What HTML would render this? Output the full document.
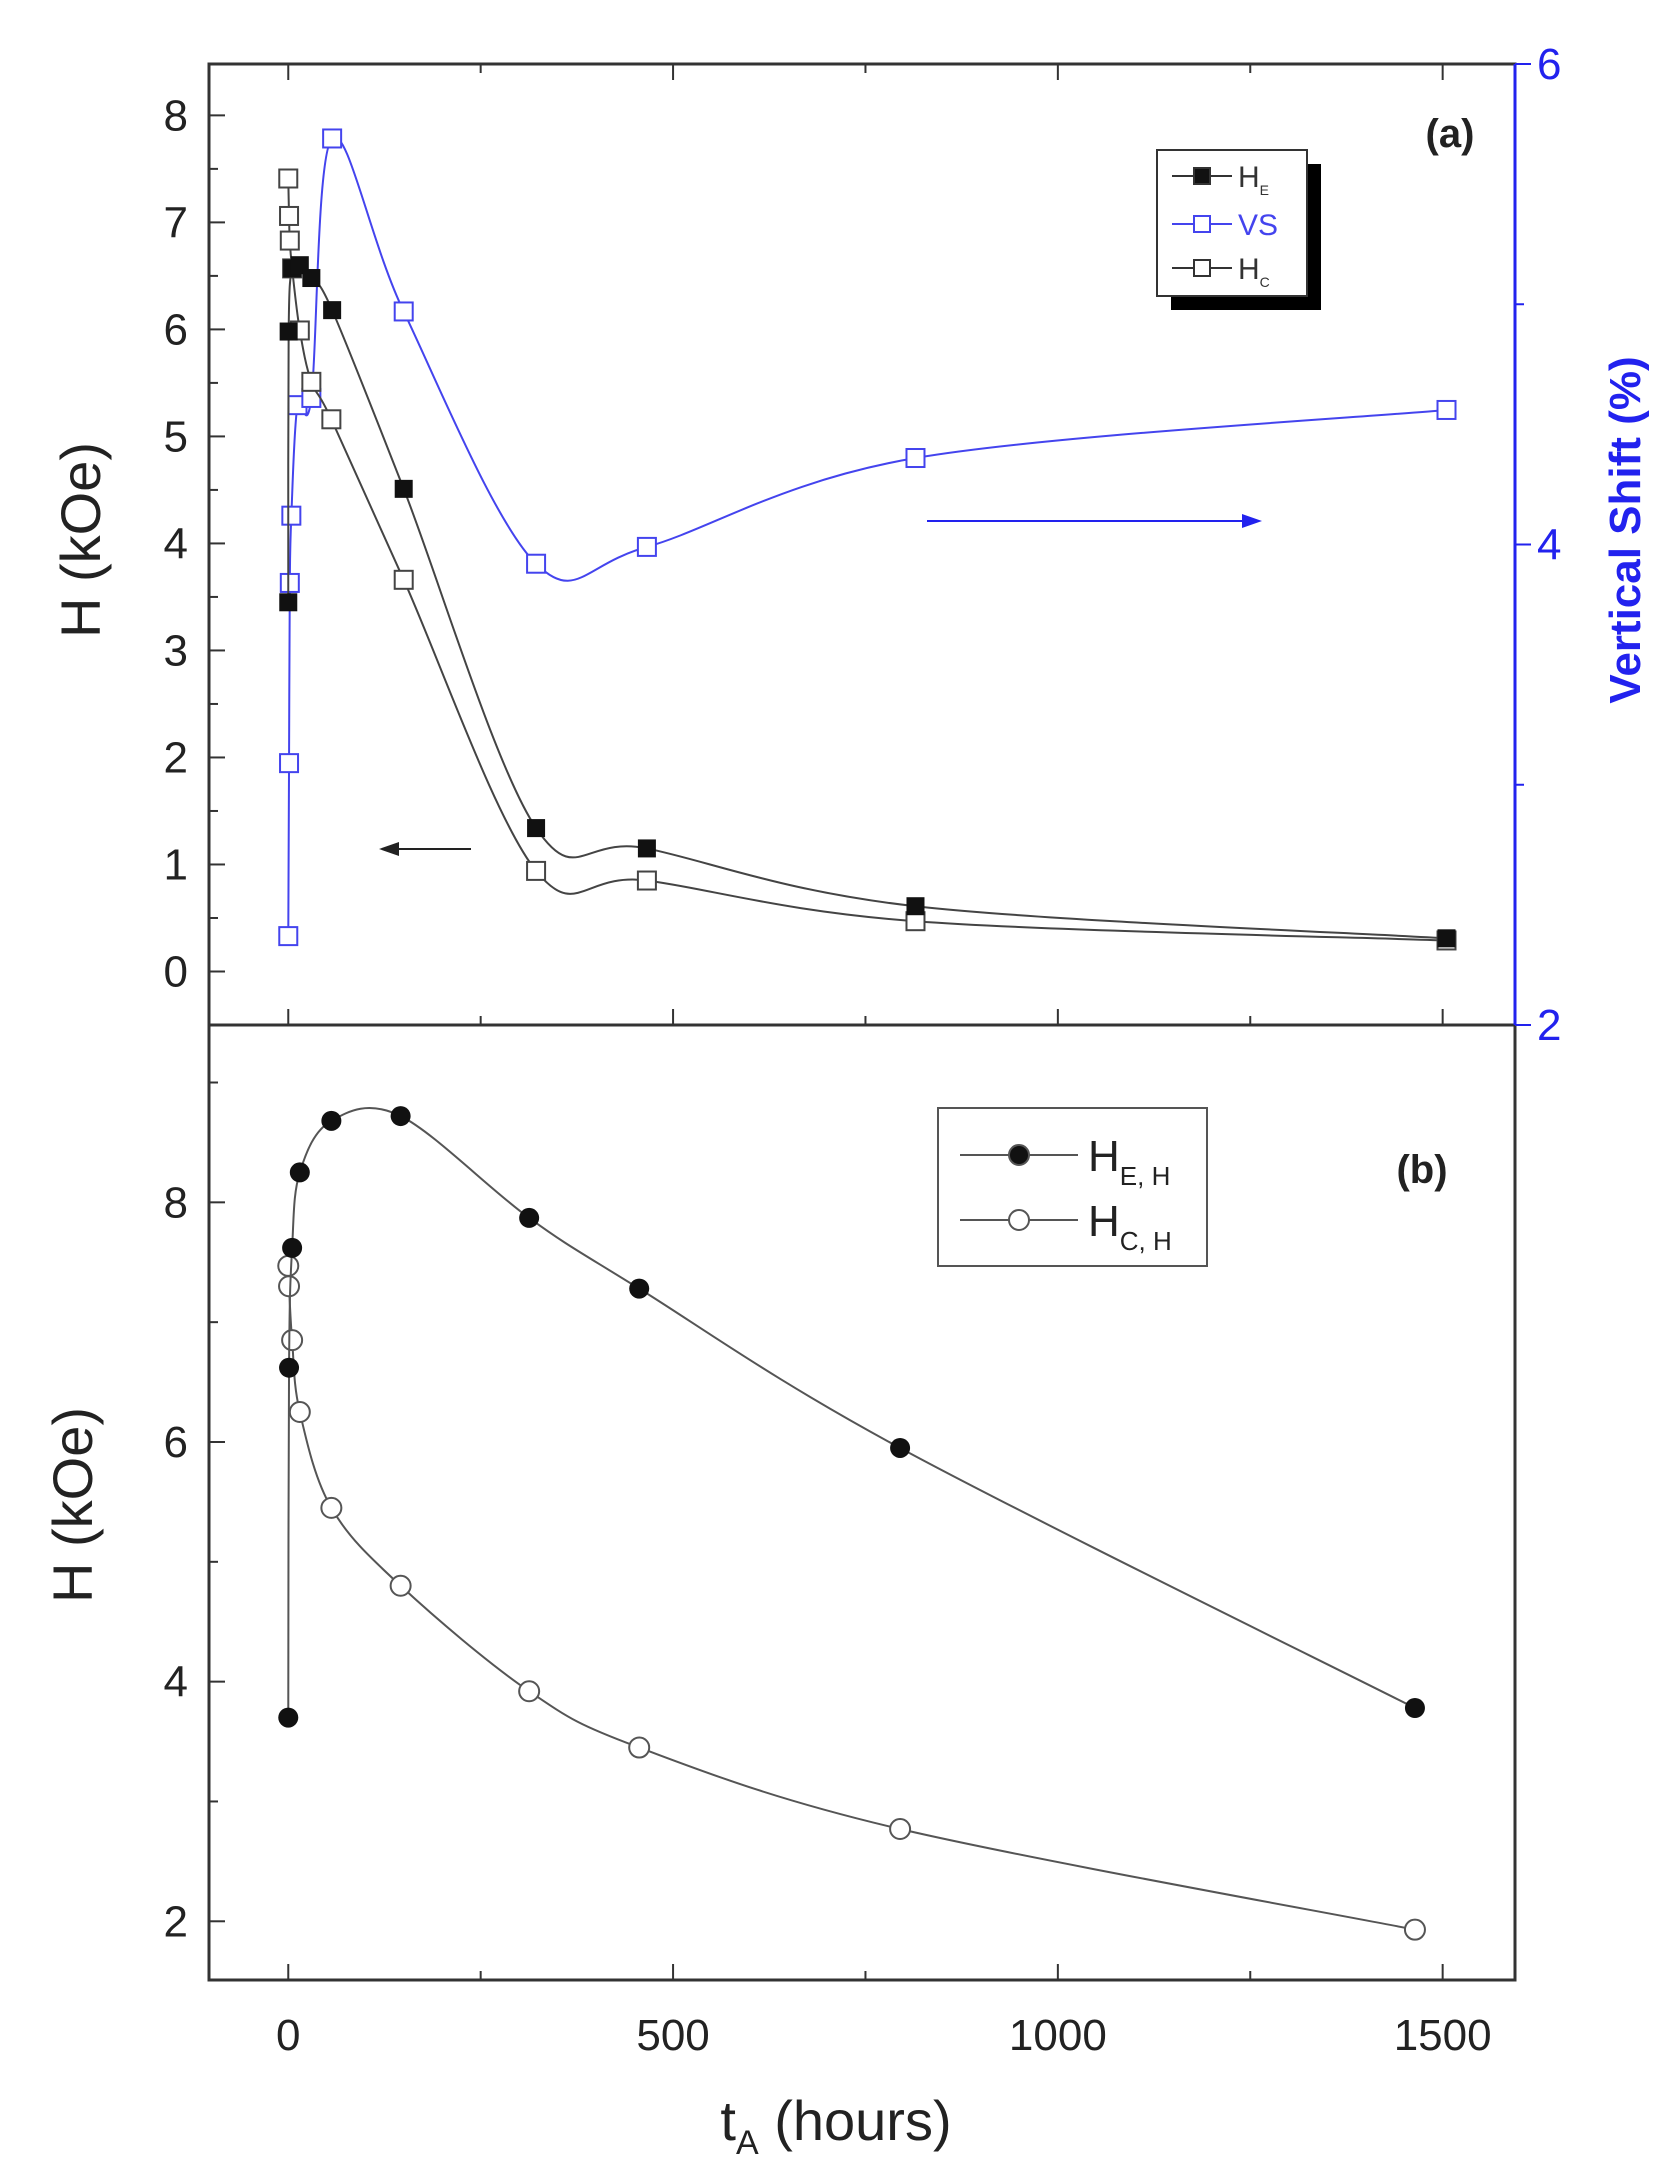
<!DOCTYPE html>
<html><head><meta charset="utf-8"><style>
body{margin:0;background:#fff}
svg{display:block}
text{font-family:"Liberation Sans",Arial,sans-serif}
</style></head><body>
<svg id="chart" width="1673" height="2183" viewBox="0 0 1673 2183" xmlns="http://www.w3.org/2000/svg">
<g id="g"></g>
</svg>
<script>
// ---- data ----
const tA_HE = [0, 0.5, 5, 15, 30, 57, 150, 322, 466, 815, 1505];
const vA_HE = [3.45, 5.98, 6.57, 6.6, 6.48, 6.18, 4.51, 1.34, 1.15, 0.61, 0.31];
const tA_HC = [0, 1, 2, 5, 15, 30, 56, 150, 322, 466, 815, 1505];
const vA_HC = [7.41, 7.06, 6.83, 6.57, 5.99, 5.51, 5.16, 3.66, 0.94, 0.85, 0.47, 0.29];
const tA_VS = [0, 1, 2, 4, 12, 30, 57, 150, 322, 466, 815, 1505];
const vA_VS = [2.37, 3.09, 3.84, 4.12, 4.58, 4.61, 5.69, 4.97, 3.92, 3.99, 4.36, 4.56];
const tB_HE = [0, 1, 5, 15, 56, 146, 313, 456, 795, 1464];
const vB_HE = [3.7, 6.62, 7.62, 8.25, 8.68, 8.72, 7.87, 7.28, 5.95, 3.78];
const tB_HC = [0, 1, 5, 15, 56, 146, 313, 456, 795, 1464];
const vB_HC = [7.47, 7.3, 6.85, 6.25, 5.45, 4.8, 3.92, 3.45, 2.77, 1.93];
const xTicks = [0, 500, 1000, 1500];
const yTicksA = [0, 1, 2, 3, 4, 5, 6, 7, 8];
const yTicksR = [2, 4, 6];
const yTicksB = [2, 4, 6, 8];

// ---- scales ----
const L = 209, R = 1515, TA = 64, MID = 1025, BB = 1980;
const x = t => L + (t - (-103)) / (1594 - (-103)) * (R - L);
const yA = v => TA + (8.48 - v) / (8.48 + 0.5) * (MID - TA);
const yR = v => TA + (6 - v) / 4 * (MID - TA);
const yB = v => MID + (9.48 - v) / (9.48 - 1.51) * (BB - MID);

const g = document.getElementById('g');
const NS = 'http://www.w3.org/2000/svg';
function el(tag, attrs, parent) {
  const e = document.createElementNS(NS, tag);
  for (const k in attrs) e.setAttribute(k, attrs[k]);
  (parent || g).appendChild(e);
  return e;
}
function txt(s, attrs) { const e = el('text', attrs); e.textContent = s; return e; }
function spline(pts) {
  let d = 'M' + pts[0][0] + ',' + pts[0][1];
  for (let i = 0; i < pts.length - 1; i++) {
    const p0 = pts[i - 1] || pts[i], p1 = pts[i], p2 = pts[i + 1], p3 = pts[i + 2] || p2;
    const c1 = [p1[0] + (p2[0] - p0[0]) / 6, p1[1] + (p2[1] - p0[1]) / 6];
    const c2 = [p2[0] - (p3[0] - p1[0]) / 6, p2[1] - (p3[1] - p1[1]) / 6];
    d += ' C' + c1 + ' ' + c2 + ' ' + p2;
  }
  return d;
}

// frames
let e;
e = el('rect', {x: L, y: TA, width: R - L, height: MID - TA, fill: 'none', stroke: '#333', 'stroke-width': 3});
 
e = el('rect', {x: L, y: MID, width: R - L, height: BB - MID, fill: 'none', stroke: '#333', 'stroke-width': 3});
 
e = el('line', {x1: R, y1: TA, x2: R, y2: MID, stroke: '#2222ee', 'stroke-width': 3});
 

// x ticks
for (let t = 0; t <= 1500; t += 250) {
  const major = t % 500 === 0, len = major ? 16 : 9, xx = x(t);
  el('line', {x1: xx, y1: TA, x2: xx, y2: TA + len, stroke: '#333', 'stroke-width': 2});
  el('line', {x1: xx, y1: MID, x2: xx, y2: MID - len, stroke: '#333', 'stroke-width': 2});
  el('line', {x1: xx, y1: BB, x2: xx, y2: BB - len, stroke: '#333', 'stroke-width': 2});
}
xTicks.forEach(t => {
  e = txt(String(t), {x: x(t), y: 2050, 'font-size': 44, 'text-anchor': 'middle', fill: '#222'});
   
});
// y ticks panel a
for (let v = -0.5; v <= 8.4; v += 0.5) {
  const major = Math.abs(v % 1) < 1e-6;
  el('line', {x1: L, y1: yA(v), x2: L + (major ? 16 : 9), y2: yA(v), stroke: '#333', 'stroke-width': 2});
}
yTicksA.forEach(v => {
  e = txt(String(v), {x: 188, y: yA(v) + 15, 'font-size': 44, 'text-anchor': 'end', fill: '#222'});
   
});
// right ticks
for (let v = 2; v <= 6; v += 1) {
  el('line', {x1: R, y1: yR(v), x2: R + (v % 2 === 0 ? 16 : 9), y2: yR(v), stroke: '#2222ee', 'stroke-width': 2});
}
yTicksR.forEach(v => {
  e = txt(String(v), {x: R + 22, y: yR(v) + 15, 'font-size': 44, fill: '#2222ee'});
   
});
// y ticks panel b
for (let v = 2; v <= 9; v += 1) {
  el('line', {x1: L, y1: yB(v), x2: L + (v % 2 === 0 ? 16 : 9), y2: yB(v), stroke: '#333', 'stroke-width': 2});
}
yTicksB.forEach(v => {
  e = txt(String(v), {x: 188, y: yB(v) + 15, 'font-size': 44, 'text-anchor': 'end', fill: '#222'});
   
});

// axis titles
e = txt('H (kOe)', {x: 0, y: 0, 'font-size': 56, 'text-anchor': 'middle', fill: '#222', transform: 'translate(100,540) rotate(-90)'});
 
e = txt('H (kOe)', {x: 0, y: 0, 'font-size': 56, 'text-anchor': 'middle', fill: '#222', transform: 'translate(92,1505) rotate(-90)'});
 
e = txt('Vertical Shift (%)', {x: 0, y: 0, 'font-size': 44, 'font-weight': 'bold', 'text-anchor': 'middle', fill: '#2222ee', transform: 'translate(1640,530) rotate(-90)'});
 
e = el('text', {x: 836, y: 2140, 'font-size': 56, 'text-anchor': 'middle', fill: '#222'});
e.innerHTML = 't<tspan font-size="34" dy="14">A</tspan><tspan dy="-14"> (hours)</tspan>';
 
e = txt('(a)', {x: 1450, y: 147, 'font-size': 40, 'font-weight': 'bold', 'text-anchor': 'middle', fill: '#222'});
 
e = txt('(b)', {x: 1422, y: 1183, 'font-size': 40, 'font-weight': 'bold', 'text-anchor': 'middle', fill: '#222'});
 

// series
function series(ts, vs, ys, color, name, marker) {
  const pts = ts.map((t, i) => [x(t), ys(vs[i])]);
  e = el('path', {d: spline(pts), fill: 'none', stroke: color, 'stroke-width': 2});
   
  pts.forEach(p => {
    if (marker === 'fsq') e = el('rect', {x: p[0] - 9, y: p[1] - 9, width: 18, height: 18, fill: '#111'});
    else if (marker === 'osq') e = el('rect', {x: p[0] - 9, y: p[1] - 9, width: 18, height: 18, fill: '#fff', stroke: color, 'stroke-width': 2});
    else if (marker === 'fc') e = el('circle', {cx: p[0], cy: p[1], r: 10, fill: '#111'});
    else e = el('circle', {cx: p[0], cy: p[1], r: 10, fill: '#fff', stroke: '#555', 'stroke-width': 2});
     
  });
}
series(tA_VS, vA_VS, yR, '#4444ee', 'vs', 'osq');
series(tA_HC, vA_HC, yA, '#444', 'hc', 'osq');
series(tA_HE, vA_HE, yA, '#444', 'he', 'fsq');
series(tB_HC, vB_HC, yB, '#555', 'hch', 'oc');
series(tB_HE, vB_HE, yB, '#555', 'heh', 'fc');

// arrows
e = el('g', {});  
el('line', {x1: 471, y1: 849, x2: 395, y2: 849, stroke: '#222', 'stroke-width': 2}, e);
el('polygon', {points: '379,849 399,842 399,856', fill: '#222'}, e);
e = el('g', {});  
el('line', {x1: 927, y1: 521, x2: 1245, y2: 521, stroke: '#2222ee', 'stroke-width': 2}, e);
el('polygon', {points: '1262,521 1242,514 1242,528', fill: '#2222ee'}, e);

// legend a
e = el('g', {});  
el('rect', {x: 1171, y: 164, width: 150, height: 146, fill: '#000'}, e);
el('rect', {x: 1157, y: 150, width: 150, height: 146, fill: '#fff', stroke: '#333', 'stroke-width': 2}, e);
const legA = [['H', 'E', '#333', 'fsq', 176], ['VS', '', '#4444ee', 'osq', 224], ['H', 'C', '#333', 'osq', 268]];
legA.forEach(l => {
  const ge = el('g', {}, e);
   
  el('line', {x1: 1172, y1: l[4], x2: 1232, y2: l[4], stroke: l[2], 'stroke-width': 2}, ge);
  el('rect', {x: 1194, y: l[4] - 8, width: 16, height: 16, fill: l[3] === 'fsq' ? '#111' : '#fff', stroke: l[2], 'stroke-width': 2}, ge);
  const t = el('text', {x: 1238, y: l[4] + 11, 'font-size': 30, fill: l[2]}, ge);
  t.innerHTML = l[0] + (l[1] ? '<tspan font-size="14" dy="8">' + l[1] + '</tspan>' : '');
});

// legend b
e = el('g', {});  
el('rect', {x: 938, y: 1108, width: 269, height: 158, fill: '#fff', stroke: '#555', 'stroke-width': 2}, e);
const legB = [['E, H', 'fc', 1155], ['C, H', 'oc', 1220]];
legB.forEach(l => {
  const ge = el('g', {}, e);
   
  el('line', {x1: 960, y1: l[2], x2: 1078, y2: l[2], stroke: '#555', 'stroke-width': 2}, ge);
  el('circle', {cx: 1019, cy: l[2], r: 10, fill: l[1] === 'fc' ? '#111' : '#fff', stroke: '#555', 'stroke-width': 2}, ge);
  const t = el('text', {x: 1088, y: l[2] + 16, 'font-size': 44, fill: '#222'}, ge);
  t.innerHTML = 'H<tspan font-size="26" dy="14">' + l[0] + '</tspan>';
});
</script>
</body></html>
